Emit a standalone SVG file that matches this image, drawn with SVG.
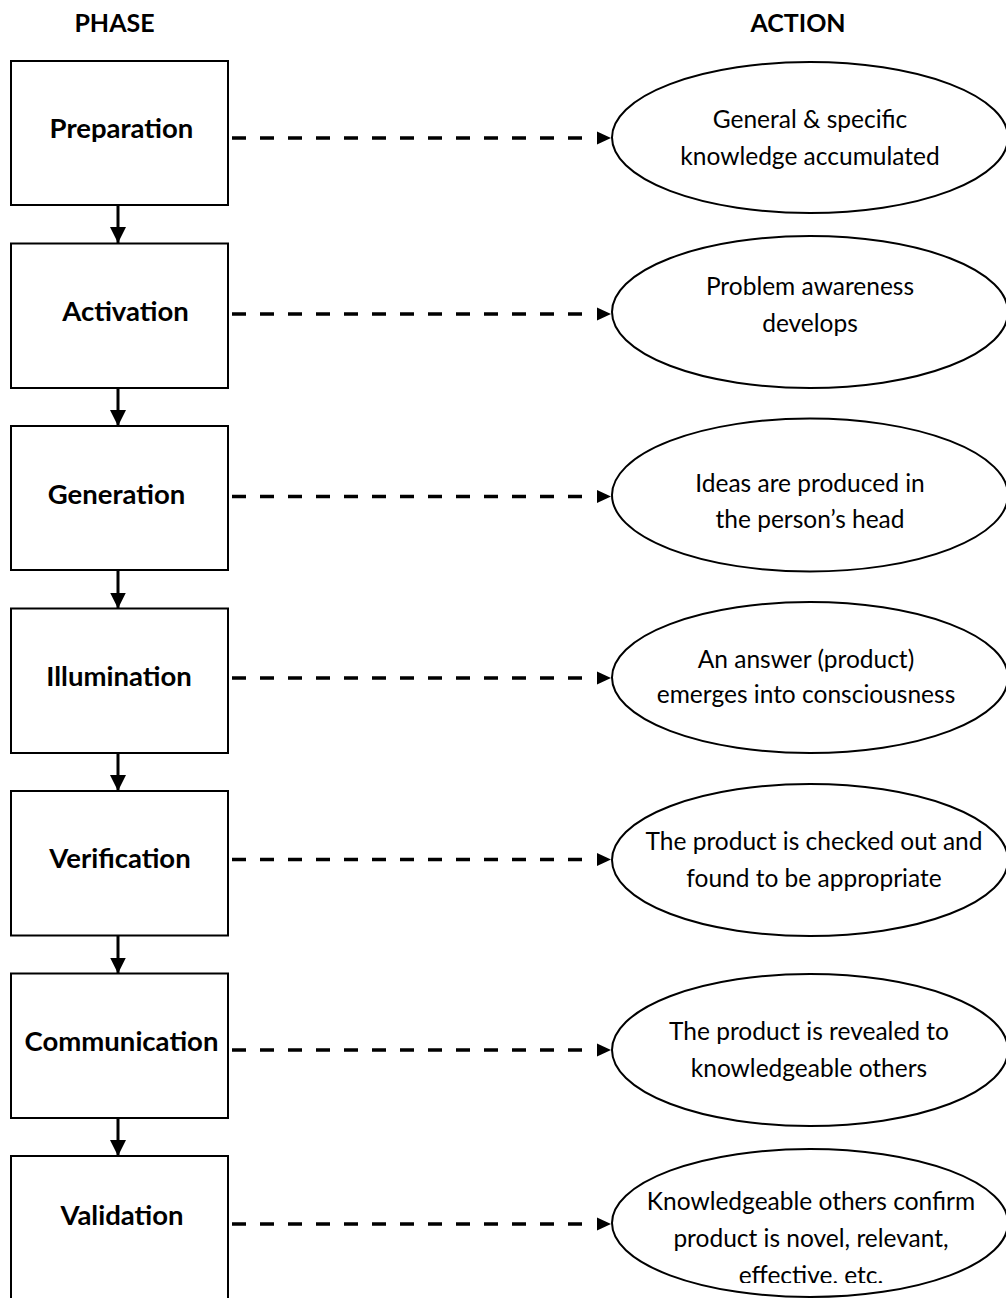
<svg xmlns="http://www.w3.org/2000/svg" width="1006" height="1298" viewBox="0 0 1006 1298">
<style>
.box{fill:#fff;stroke:#000;stroke-width:2}
.ell{fill:#fff;stroke:#000;stroke-width:2}
.lbl{font-family:Lato,"Liberation Sans",sans-serif;font-weight:bold;font-size:27.5px;fill:#000;text-anchor:middle}
.hdr{font-family:Lato,"Liberation Sans",sans-serif;font-weight:bold;font-size:25px;fill:#000;text-anchor:middle}
.txt{font-family:Lato,"Liberation Sans",sans-serif;font-size:24.5px;fill:#000;text-anchor:middle}
.dash{stroke:#000;stroke-width:3.5;stroke-dasharray:14 14;fill:none}
.solid{stroke:#000;stroke-width:3;fill:none}
</style>
<defs>
<marker id="down" viewBox="0 0 10 10" refX="10" refY="5" markerWidth="16" markerHeight="16" markerUnits="userSpaceOnUse" orient="auto"><path d="M0,0 L10,5 L0,10 Z" fill="#000"/></marker>
<clipPath id="clip7"><rect x="600" y="1140" width="406" height="143"/></clipPath>
</defs>
<rect width="1006" height="1298" fill="#fff"/>
<g id="headers">
<text class="hdr" x="114.5" y="32">PHASE</text>
<text class="hdr" x="798" y="32">ACTION</text>
</g>
<g id="connectors">
<line class="solid" x1="118" y1="205" x2="118" y2="243" marker-end="url(#down)"/>
<line class="solid" x1="118" y1="388" x2="118" y2="426" marker-end="url(#down)"/>
<line class="solid" x1="118" y1="570" x2="118" y2="608.5" marker-end="url(#down)"/>
<line class="solid" x1="118" y1="753" x2="118" y2="791" marker-end="url(#down)"/>
<line class="solid" x1="118" y1="935.5" x2="118" y2="973.5" marker-end="url(#down)"/>
<line class="solid" x1="118" y1="1118" x2="118" y2="1156" marker-end="url(#down)"/>
<g>
<line class="dash" x1="232" y1="138" x2="586" y2="138"/><path d="M597,131.5 L611,138 L597,144.5 Z"/>
<line class="dash" x1="232" y1="314" x2="586" y2="314"/><path d="M597,307.5 L611,314 L597,320.5 Z"/>
<line class="dash" x1="232" y1="496.5" x2="586" y2="496.5"/><path d="M597,490 L611,496.5 L597,503 Z"/>
<line class="dash" x1="232" y1="678" x2="586" y2="678"/><path d="M597,671.5 L611,678 L597,684.5 Z"/>
<line class="dash" x1="232" y1="859.5" x2="586" y2="859.5"/><path d="M597,853 L611,859.5 L597,866 Z"/>
<line class="dash" x1="232" y1="1050" x2="586" y2="1050"/><path d="M597,1043.5 L611,1050 L597,1056.5 Z"/>
<line class="dash" x1="232" y1="1224" x2="586" y2="1224"/><path d="M597,1217.5 L611,1224 L597,1230.5 Z"/>
</g>
</g>
<g id="phase-preparation"><rect class="box" x="11" y="61" width="217" height="144"/><text class="lbl" x="121.5" y="137.5">Preparation</text></g>
<g id="phase-activation"><rect class="box" x="11" y="243.5" width="217" height="144.5"/><text class="lbl" x="125.5" y="320.5">Activation</text></g>
<g id="phase-generation"><rect class="box" x="11" y="426" width="217" height="144"/><text class="lbl" x="116.5" y="503.5">Generation</text></g>
<g id="phase-illumination"><rect class="box" x="11" y="608.5" width="217" height="144.5"/><text class="lbl" x="119" y="686">Illumination</text></g>
<g id="phase-verification"><rect class="box" x="11" y="791" width="217" height="144.5"/><text class="lbl" x="120" y="867.5">Verification</text></g>
<g id="phase-communication"><rect class="box" x="11" y="973.5" width="217" height="144.5"/><text class="lbl" x="121.5" y="1050.5">Communication</text></g>
<g id="phase-validation"><rect class="box" x="11" y="1156" width="217" height="160"/><text class="lbl" x="122" y="1224.5">Validation</text></g>
<g id="action-1"><ellipse class="ell" cx="810" cy="137.5" rx="198" ry="75.5"/><text class="txt" x="810" y="128">General &amp; specific</text><text class="txt" x="810" y="165">knowledge accumulated</text></g>
<g id="action-2"><ellipse class="ell" cx="810" cy="312" rx="198" ry="76"/><text class="txt" x="810" y="295">Problem awareness</text><text class="txt" x="810" y="332">develops</text></g>
<g id="action-3"><ellipse class="ell" cx="810" cy="495" rx="198" ry="76.5"/><text class="txt" x="810" y="492">Ideas are produced in</text><text class="txt" x="810" y="528">the person’s head</text></g>
<g id="action-4"><ellipse class="ell" cx="810" cy="677.5" rx="198" ry="75.5"/><text class="txt" x="806" y="668">An answer (product)</text><text class="txt" x="806" y="703">emerges into consciousness</text></g>
<g id="action-5"><ellipse class="ell" cx="810" cy="860" rx="198" ry="76"/><text class="txt" x="814" y="850">The product is checked out and</text><text class="txt" x="814" y="887">found to be appropriate</text></g>
<g id="action-6"><ellipse class="ell" cx="810" cy="1050" rx="198" ry="76"/><text class="txt" x="809" y="1040">The product is revealed to</text><text class="txt" x="809" y="1077">knowledgeable others</text></g>
<g id="action-7"><ellipse class="ell" cx="810" cy="1223" rx="198" ry="74"/><g clip-path="url(#clip7)"><text class="txt" x="811" y="1210">Knowledgeable others confirm</text><text class="txt" x="811" y="1247">product is novel, relevant,</text><text class="txt" x="811" y="1284">effective, etc.</text></g></g>
</svg>
